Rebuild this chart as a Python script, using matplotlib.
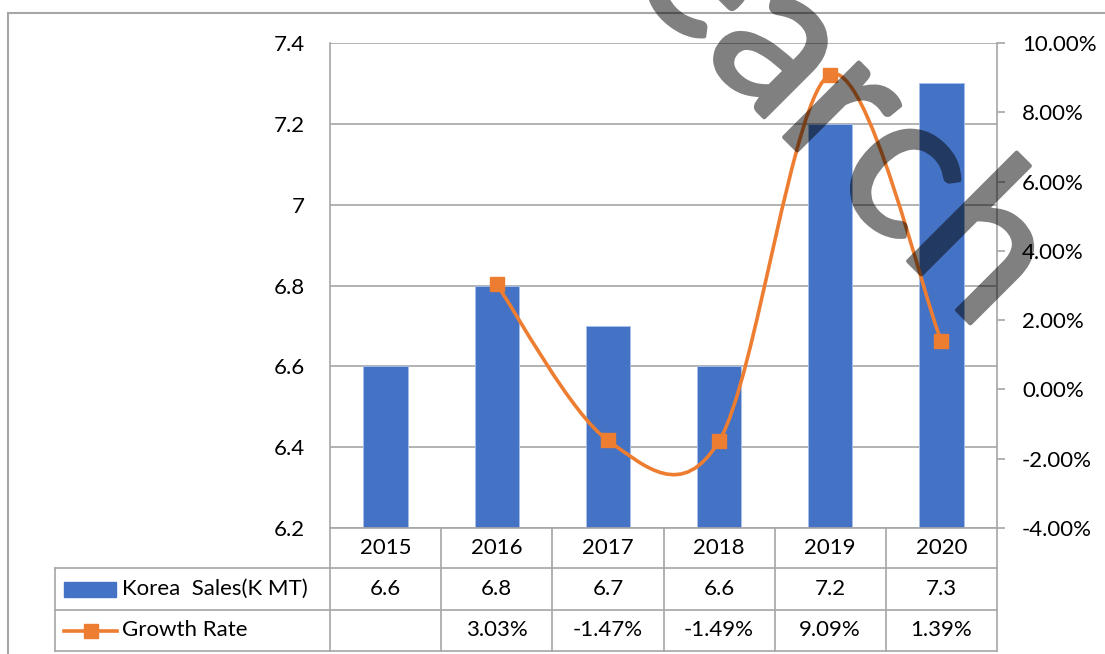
import numpy as np
import matplotlib.pyplot as plt
import matplotlib.patheffects as pe
from matplotlib.path import Path
from matplotlib.patches import PathPatch, Rectangle
from matplotlib.lines import Line2D

plt.rcParams['font.family'] = ['Lato', 'DejaVu Sans']

#################### Data ####################
years = ['2015', '2016', '2017', '2018', '2019', '2020']
sales = [6.6, 6.8, 6.7, 6.6, 7.2, 7.3]
growth = [None, 3.03, -1.47, -1.49, 9.09, 1.39]

left_ticks = [6.2, 6.4, 6.6, 6.8, 7.0, 7.2, 7.4]
left_labels = ['6.2', '6.4', '6.6', '6.8', '7', '7.2', '7.4']
right_ticks = [-4, -2, 0, 2, 4, 6, 8, 10]

bar_color = '#4472C4'
line_color = '#ED7D31'
grid_color = '#A6A6A6'
fs = 16


def smooth_path(xs, ys):
    # Excel-like smoothed line: cubic bezier segments through every point
    pts = np.column_stack([xs, ys]).astype(float)
    n = len(pts)
    verts = [pts[0]]
    codes = [Path.MOVETO]
    for i in range(n - 1):
        p0 = pts[i - 1] if i > 0 else pts[i]
        p1 = pts[i]
        p2 = pts[i + 1]
        p3 = pts[i + 2] if i + 2 < n else pts[i + 1]
        verts += [p1 + (p2 - p0) / 6, p2 - (p3 - p1) / 6, p2]
        codes += [Path.CURVE4] * 3
    return Path(verts, codes)


def half_alpha(img, dpi):
    # watermark is drawn opaque, then faded as one layer
    img = img.copy()
    img[..., 3] *= 0.5
    return img, 0, 0


#################### Figure ####################
fig = plt.figure(figsize=(11.05, 6.54), dpi=100)
ax = fig.add_axes([330 / 1105, 1 - 528 / 654, 667 / 1105, 485 / 654])

x = np.arange(len(years))
ax.bar(x, sales, width=0.4, color=bar_color, edgecolor='#A9C1EA', linewidth=0.6, zorder=2)
ax.set_xlim(-0.5, len(years) - 0.5)
ax.set_ylim(6.2, 7.4)
ax.set_yticks(left_ticks)
ax.set_yticklabels(left_labels)
ax.set_xticks([])
ax.yaxis.grid(True, color=grid_color, linewidth=1.2, zorder=0)
ax.set_axisbelow(True)
ax.tick_params(axis='y', length=0, pad=18, labelsize=fs)
for side in ['top', 'right']:
    ax.spines[side].set_visible(False)
for side in ['left', 'bottom']:
    ax.spines[side].set_color(grid_color)
    ax.spines[side].set_linewidth(1.2)

# growth rate on the secondary axis
ax2 = ax.twinx()
gx = [i for i, g in enumerate(growth) if g is not None]
gy = [g for g in growth if g is not None]
ax2.add_patch(PathPatch(smooth_path(gx, gy), fill=False, edgecolor=line_color,
                        linewidth=2.6, zorder=3))
ax2.plot(gx, gy, linestyle='none', marker='s', markersize=10,
         color=line_color, zorder=4)
ax2.set_ylim(-4, 10)
ax2.set_yticks(right_ticks)
ax2.set_yticklabels([f'{t:.2f}%' for t in right_ticks])
ax2.tick_params(axis='y', length=6, width=1.2, color=grid_color, pad=12, labelsize=fs)
for side in ['top', 'left', 'bottom']:
    ax2.spines[side].set_visible(False)
ax2.spines['right'].set_color(grid_color)
ax2.spines['right'].set_linewidth(1.2)

#################### Data table ####################
def ay(py):
    return (528 - py) / 485


def axx(px):
    return (px - 330) / 667


tbl = dict(color=grid_color, linewidth=1.2, clip_on=False, zorder=1)
for py in [568, 610, 651]:
    ax.plot([axx(55), 1], [ay(py), ay(py)], transform=ax.transAxes, **tbl)
ax.plot([axx(55), axx(55)], [ay(568), ay(651)], transform=ax.transAxes, **tbl)
for i in range(len(years) + 1):
    ax.plot([i / len(years)] * 2, [0, ay(651)], transform=ax.transAxes, **tbl)

for i, yr in enumerate(years):
    cx = (i + 0.5) / len(years)
    ax.text(cx, ay(548), yr, transform=ax.transAxes, ha='center', va='center', fontsize=fs)
    ax.text(cx, ay(589), f'{sales[i]:.1f}', transform=ax.transAxes,
            ha='center', va='center', fontsize=fs)
    if growth[i] is not None:
        ax.text(cx, ay(630), f'{growth[i]:.2f}%', transform=ax.transAxes,
                ha='center', va='center', fontsize=fs)

# legend keys inside the table
ax.add_patch(Rectangle((axx(64), ay(597)), 52 / 667, 15 / 485, transform=ax.transAxes,
                       color=bar_color, clip_on=False))
ax.text(axx(122), ay(589), 'Korea  Sales(K MT)', transform=ax.transAxes,
        ha='left', va='center', fontsize=fs)
ax.add_line(Line2D([axx(64), axx(117)], [ay(631), ay(631)], transform=ax.transAxes,
                   color=line_color, linewidth=2.6, clip_on=False))
ax.add_line(Line2D([axx(90.5)], [ay(631)], transform=ax.transAxes, marker='s',
                   markersize=10, color=line_color, clip_on=False))
ax.text(axx(122), ay(630), 'Growth Rate', transform=ax.transAxes,
        ha='left', va='center', fontsize=fs)

#################### Frame, title, watermark ####################
fig.add_artist(Line2D([8 / 1105, 8 / 1105], [0, 1 - 13 / 654], color=grid_color, linewidth=1.5))
fig.add_artist(Line2D([8 / 1105, 1], [1 - 13 / 654, 1 - 13 / 654], color=grid_color, linewidth=1.5))
fig.text(2 / 1105, 1 + 3 / 654, 'Figure  Korea Sales (K MT) and Growth Rate (2015-2020)',
         ha='left', va='baseline', fontsize=14, color='#2F4B8A')

wm = fig.text(980 / 1105, 1 - 333 / 654, 'Research', ha='right', va='baseline',
              rotation=-45, rotation_mode='anchor', fontsize=150, color='black', zorder=10)
wm.set_path_effects([pe.Stroke(linewidth=3, foreground='black'), pe.Normal()])
wm.set_agg_filter(half_alpha)

fig.savefig('out.png', dpi=100)
